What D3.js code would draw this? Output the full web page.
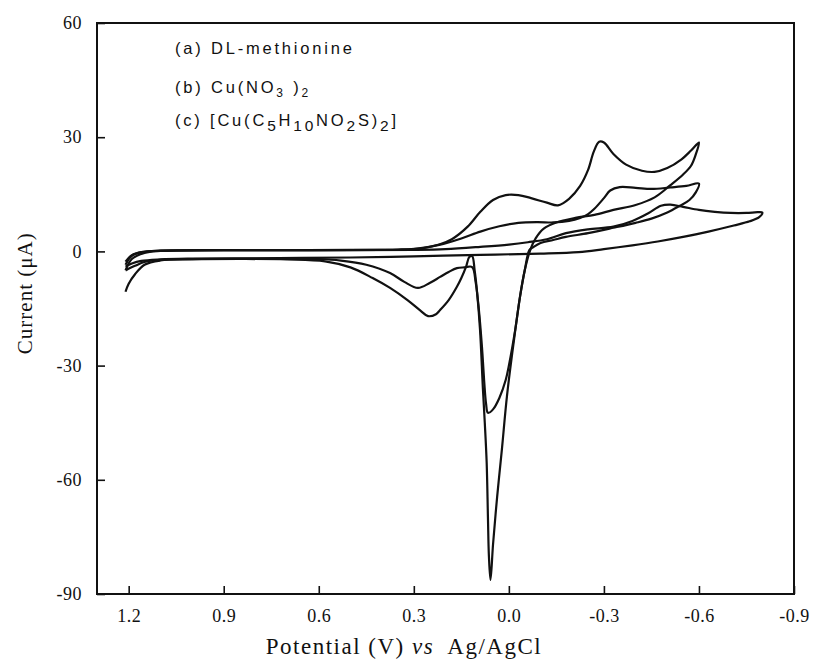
<!DOCTYPE html>
<html>
<head>
<meta charset="utf-8">
<script src="https://cdn.jsdelivr.net/npm/d3@7"></script>
<style>
  html, body { margin: 0; padding: 0; background: #fff; }
  svg { display: block; }
</style>
</head>
<body>
<svg id="chart" width="815" height="671"></svg>
<script>
// ---------- data (potential V vs Ag/AgCl, current µA) ----------
const xTicks = [1.2, 0.9, 0.6, 0.3, 0.0, -0.3, -0.6, -0.9];
const yTicks = [60, 30, 0, -30, -60, -90];

// (a) DL-methionine
const methionineCV = [
  [1.21,-2.7],[1.19,-1.0],[1.16,-0.2],[1.1,0.2],[0.8,0.3],[0.5,0.3],[0.3,0.4],[0.2,0.6],
  [0.09,1.2],[0.0,1.8],[-0.06,2.4],[-0.12,3.2],[-0.18,4.8],[-0.25,5.8],[-0.33,6.5],
  [-0.39,8.0],[-0.44,10.0],[-0.48,12.0],[-0.51,12.3],[-0.55,11.7],[-0.6,10.9],
  [-0.65,10.4],[-0.7,10.1],[-0.75,10.1],[-0.785,10.3],[-0.80,10.2],
  [-0.79,9.0],[-0.76,7.9],[-0.71,6.8],[-0.63,5.2],[-0.55,3.8],[-0.47,2.6],[-0.39,1.6],
  [-0.3,0.6],[-0.22,-0.2],[-0.1,-0.6],[0.09,-0.9],[0.3,-1.3],[0.5,-1.6],[0.8,-1.8],
  [1.0,-1.9],[1.1,-2.1],[1.16,-2.5],[1.19,-3.2],[1.21,-4.0]
];

// (b) Cu(NO3)2
const copperNitrateCV = [
  [1.21,-3.5],[1.19,-1.2],[1.16,-0.2],[1.1,0.2],[0.9,0.3],[0.7,0.3],[0.5,0.4],[0.35,0.5],
  [0.27,0.9],[0.22,1.8],[0.18,3.2],[0.13,6.5],[0.09,10.4],[0.05,13.5],[0.01,14.8],
  [-0.03,14.8],[-0.07,14.0],[-0.12,12.8],[-0.155,12.1],[-0.19,13.8],[-0.225,17.2],
  [-0.25,21.4],[-0.268,26.2],[-0.285,28.8],[-0.30,28.6],[-0.33,25.6],[-0.37,22.8],
  [-0.42,21.2],[-0.46,20.9],[-0.50,21.9],[-0.545,24.2],[-0.575,26.5],[-0.60,28.6],
  [-0.59,25.5],[-0.575,22.5],[-0.55,20.2],[-0.51,17.4],[-0.46,14.2],[-0.40,12.2],
  [-0.33,10.9],[-0.27,9.6],[-0.21,8.8],[-0.15,7.6],[-0.11,6.0],[-0.085,3.5],[-0.068,0.5],
  [-0.05,-5],[-0.035,-12],[-0.015,-24],[0.006,-38],[0.022,-52],[0.037,-64.5],[0.05,-77],
  [0.058,-86.3],[0.063,-80],[0.066,-70],[0.07,-55.6],[0.076,-45],[0.082,-36],[0.091,-20.6],
  [0.10,-11],[0.108,-5],[0.116,-1.2],[0.125,-1.5],[0.135,-4],[0.15,-7],[0.164,-9.3],
  [0.19,-12.8],[0.217,-15.4],[0.23,-16.5],[0.255,-17.0],[0.28,-15.5],[0.32,-12.8],
  [0.375,-9.6],[0.43,-7.0],[0.5,-4.2],[0.58,-2.6],[0.7,-2.1],[0.85,-2.0],[1.0,-2.1],
  [1.1,-2.4],[1.15,-3.5],[1.18,-6],[1.2,-8.5],[1.21,-10.6]
];

// (c) [Cu(C5H10NO2S)2]
const complexCV = [
  [1.21,-5],[1.19,-2],[1.15,-0.4],[1.1,0.1],[0.9,0.3],[0.6,0.3],[0.4,0.4],[0.3,0.6],
  [0.22,1.7],[0.15,3.4],[0.09,5.2],[0.03,6.6],[-0.03,7.5],[-0.09,7.7],[-0.14,7.6],
  [-0.19,8.0],[-0.225,8.8],[-0.25,9.8],[-0.27,11.2],[-0.30,14.0],[-0.32,16.0],
  [-0.35,16.9],[-0.40,16.7],[-0.45,16.4],[-0.51,16.8],[-0.56,17.2],[-0.60,17.8],
  [-0.59,15.5],[-0.57,13.5],[-0.54,12.0],[-0.50,10.2],[-0.45,8.6],[-0.40,7.5],
  [-0.33,6.2],[-0.25,4.8],[-0.18,3.8],[-0.14,3.0],[-0.10,2.2],[-0.075,1.0],[-0.065,0.4],
  [-0.05,-5],[-0.035,-12],[-0.02,-20.6],[0.0,-30],[0.01,-33.8],[0.03,-38.5],[0.05,-41.5],
  [0.066,-42.4],[0.072,-40],[0.078,-34],[0.085,-25],[0.095,-15],[0.105,-8],[0.116,-4.1],
  [0.14,-4.2],[0.164,-4.4],[0.19,-5.4],[0.217,-6.7],[0.25,-8.3],[0.287,-9.6],[0.33,-8.0],
  [0.375,-5.7],[0.45,-3.5],[0.53,-2.4],[0.6,-2.0],[0.8,-1.9],[1.0,-2.0],[1.1,-2.2],
  [1.15,-2.8],[1.18,-3.8],[1.21,-5.0]
];

const series = [methionineCV, copperNitrateCV, complexCV];

// ---------- layout ----------
const W = 815, H = 671;
const margin = { top: 23, right: 21, bottom: 77, left: 97 };
const iw = W - margin.left - margin.right;
const ih = H - margin.top - margin.bottom;

const svg = d3.select("#chart");
const g = svg.append("g").attr("transform", `translate(${margin.left},${margin.top})`);

const x = d3.scaleLinear().domain([1.3, -0.9]).range([0, iw]);
const y = d3.scaleLinear().domain([-90, 60]).range([ih, 0]);

// axes (ticks pointing inward)
const yAxis = d3.axisLeft(y).tickValues(yTicks).tickSize(-8).tickPadding(15)
  .tickFormat(d => String(d));
const xAxis = d3.axisBottom(x).tickValues(xTicks).tickSize(-8).tickPadding(15)
  .tickFormat(d => d.toFixed(1));

const ya = g.append("g").call(yAxis);
const xa = g.append("g").attr("transform", `translate(0,${ih})`).call(xAxis);
[ya, xa].forEach(a => {
  a.select(".domain").remove();
  a.selectAll(".tick line").attr("stroke", "#111").attr("stroke-width", 1.6);
  a.selectAll(".tick text")
    .attr("font-family", "'Liberation Serif', 'Times New Roman', serif")
    .attr("font-size", 18).attr("fill", "#111").attr("letter-spacing", "0.5px");
});

// frame
g.append("rect").attr("x", 0).attr("y", 0).attr("width", iw).attr("height", ih)
  .attr("fill", "none").attr("stroke", "#111").attr("stroke-width", 2);

// curves
const line = d3.line().x(d => x(d[0])).y(d => y(d[1])).curve(d3.curveCatmullRom.alpha(0.5));
g.selectAll("path.cv").data(series).join("path")
  .attr("class", "cv")
  .attr("d", line)
  .attr("fill", "none")
  .attr("stroke", "#111")
  .attr("stroke-width", 2.2)
  .attr("stroke-linejoin", "round");

// legend text
const legFont = "'Liberation Sans', Arial, sans-serif";
const leg = svg.append("g").attr("font-family", legFont).attr("font-size", 16.5)
  .attr("fill", "#111").attr("letter-spacing", "2.8px");

const la = leg.append("text").attr("x", 175).attr("y", 54);
la.append("tspan").text("(a) DL-methionine");

const lb = leg.append("text").attr("x", 175).attr("y", 93);
lb.append("tspan").text("(b) Cu(NO");
lb.append("tspan").attr("font-size", 12).attr("dy", 4).text("3");
lb.append("tspan").attr("dy", -4).text(" )");
lb.append("tspan").attr("font-size", 12).attr("dy", 4).text("2");

const lc = leg.append("text").attr("x", 175).attr("y", 126);
const cParts = [["(c) [Cu(C", 0], ["5", 1], ["H", 0], ["10", 1], ["NO", 0], ["2", 1], ["S)", 0], ["2", 1], ["]", 0]];
let prevSub = 0;
cParts.forEach(([t, sub]) => {
  const ts = lc.append("tspan").text(t);
  if (sub) ts.attr("font-size", 15.5);
  ts.attr("dy", (sub - prevSub) * 5);
  prevSub = sub;
});

// axis titles
const serif = "'Liberation Serif', 'Times New Roman', serif";
svg.append("text")
  .attr("transform", `translate(32, ${margin.top + y(-11)}) rotate(-90)`)
  .attr("text-anchor", "middle")
  .attr("font-family", serif).attr("font-size", 21).attr("fill", "#111")
  .attr("letter-spacing", "1px")
  .text("Current (\u03BCA)");

const xt = svg.append("text")
  .attr("x", 404).attr("y", 654)
  .attr("text-anchor", "middle")
  .attr("font-family", serif).attr("font-size", 23).attr("fill", "#111")
  .attr("letter-spacing", "1.5px");
xt.append("tspan").text("Potential (V) ");
xt.append("tspan").attr("font-style", "italic").text("vs");
xt.append("tspan").text("\u00A0 Ag/AgCl");
</script>
</body>
</html>
